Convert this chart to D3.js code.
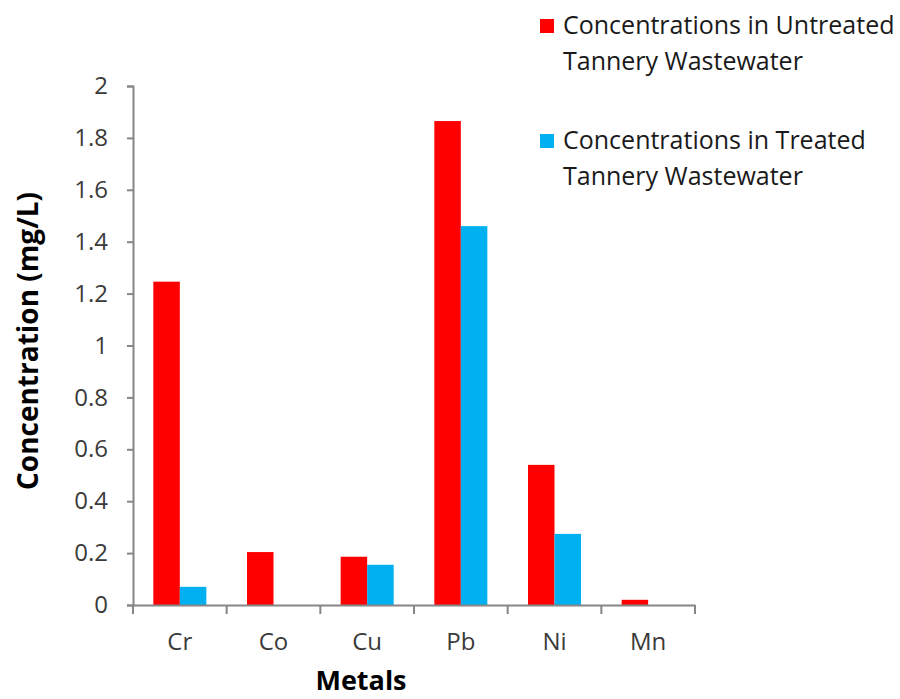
<!DOCTYPE html>
<html><head><meta charset="utf-8">
<script src="https://cdn.jsdelivr.net/npm/d3@7"></script>
<style>body{margin:0;background:#fff}svg{display:block}text{font-family:"Open Sans",sans-serif}</style>
</head><body><svg id="c" width="900" height="699"></svg>
<script>
const categories = ["Cr","Co","Cu","Pb","Ni","Mn"];
const untreated = [1.246, 0.204, 0.186, 1.865, 0.54, 0.02];
const treated = [0.07, 0, 0.155, 1.46, 0.274, 0];
const seriesNames = ["Concentrations in Untreated Tannery Wastewater","Concentrations in Treated Tannery Wastewater"];
const legendLines = [["Concentrations in Untreated","Tannery Wastewater"],["Concentrations in Treated","Tannery Wastewater"]];
const yTicks = [0,0.2,0.4,0.6,0.8,1,1.2,1.4,1.6,1.8,2];
const colors = ["#FF0000","#00B0F0"];

(function(){
const svg = d3.select("#c");
const pL = 133, pR = 695, pT = 86, pB = 605;
const x = d3.scaleBand().domain(categories).range([pL,pR]).paddingInner(0.434).paddingOuter(0.217);
const xs = d3.scaleBand().domain([0,1]).range([0,x.bandwidth()]);
const y = d3.scaleLinear().domain([0,2]).range([pB,pT]);
const axisColor = "#868686";
const labelColor = "#3a3a3a";

const series = [untreated, treated];
series.forEach((vals,si)=>{
  svg.append("g").selectAll("rect").data(vals).join("rect")
    .attr("x",(d,i)=>x(categories[i])+xs(si))
    .attr("width",xs.bandwidth())
    .attr("y",d=>y(d))
    .attr("height",d=>y(0)-y(d))
    .attr("fill",colors[si]);
});

const ya = svg.append("g").attr("transform",`translate(${pL},0)`)
  .call(d3.axisLeft(y).tickValues(yTicks).tickSize(6).tickPadding(19).tickFormat(d=>String(d)));
ya.select(".domain").attr("stroke",axisColor).attr("stroke-width",2);
ya.selectAll(".tick line").attr("stroke",axisColor).attr("stroke-width",2);
ya.selectAll(".tick text").attr("font-size",24).attr("fill",labelColor).attr("font-family","Open Sans");

const xa = svg.append("g").attr("transform",`translate(0,${pB})`)
  .call(d3.axisBottom(x).tickSize(0).tickPadding(28));
xa.select(".domain").attr("stroke",axisColor).attr("stroke-width",2);
xa.selectAll(".tick text").attr("font-size",24).attr("fill",labelColor).attr("font-family","Open Sans");
const step = x.step();
const bounds = d3.range(categories.length+1).map(i=>pL+i*step);
xa.selectAll("line.sep").data(bounds).join("line").attr("class","sep")
  .attr("x1",d=>d).attr("x2",d=>d).attr("y1",0).attr("y2",9)
  .attr("stroke",axisColor).attr("stroke-width",2);

svg.append("text").attr("transform","translate(38,341) rotate(-90)")
  .attr("text-anchor","middle").attr("font-size",28).attr("font-weight","bold").attr("fill","#000")
  .text("Concentration (mg/L)");
svg.append("text").attr("x",361).attr("y",690).attr("text-anchor","middle")
  .attr("font-size",27).attr("font-weight","bold").attr("fill","#000").text("Metals");

const lg = svg.append("g");
[0,1].forEach(i=>{
  const oy = i*115;
  lg.append("rect").attr("x",540).attr("y",19+oy).attr("width",14).attr("height",14).attr("fill",colors[i]);
  legendLines[i].forEach((t,j)=>{
    lg.append("text").attr("x",563).attr("y",34+oy+j*36).attr("font-size",25).attr("fill","#1a1a1a").text(t);
  });
});
})();
</script></body></html>
